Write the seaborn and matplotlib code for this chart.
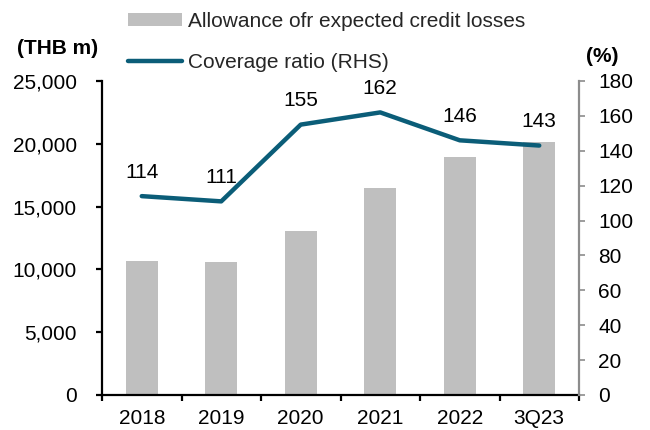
import numpy as np
import matplotlib
matplotlib.use("Agg")
import matplotlib.pyplot as plt
import seaborn as sns
from matplotlib.patches import Patch
from matplotlib.lines import Line2D
from matplotlib.ticker import FuncFormatter, MultipleLocator

categories = ["2018", "2019", "2020", "2021", "2022", "3Q23"]
allowance = [10700, 10580, 13070, 16470, 18940, 20180]
coverage = [114, 111, 155, 162, 146, 143]
coverage_labels = ["114", "111", "155", "162", "146", "143"]

bar_color = "#BFBFBF"
line_color = "#0B5D78"

sns.set_theme(style="white")
plt.rcParams["font.family"] = ["Liberation Sans", "DejaVu Sans"]

fig = plt.figure(figsize=(6.5, 4.3), dpi=100)
ax = fig.add_axes([102 / 650, 1 - 395 / 430, 477 / 650, 314 / 430])

sns.barplot(x=categories, y=allowance, color=bar_color, width=0.4,
            saturation=1, linewidth=0, ax=ax)
ax.set_ylim(0, 25000)
ax.yaxis.set_major_locator(MultipleLocator(5000))
ax.yaxis.set_major_formatter(FuncFormatter(lambda v, p: f"{int(v):,}"))
ax.set_xlim(-0.5, len(categories) - 0.5)
ax.set_xlabel("")
ax.set_ylabel("")

ax2 = ax.twinx()
sns.pointplot(x=categories, y=coverage, color=line_color, markers="",
              linewidth=3.2, ax=ax2)
ax2.set_ylim(0, 180)
ax2.yaxis.set_major_locator(MultipleLocator(20))
ax2.set_xlim(-0.5, len(categories) - 0.5)
ax2.set_ylabel("")
ax2.set_xlabel("")

for i, (v, lab) in enumerate(zip(coverage, coverage_labels)):
    ax2.annotate(lab, (i, v), xytext=(0, 17), textcoords="offset points",
                 ha="center", va="center", fontsize=15, color="#000000")

# spines
for s in ["top", "right"]:
    ax.spines[s].set_visible(False)
ax.spines["left"].set_color("black")
ax.spines["bottom"].set_color("black")
ax.spines["left"].set_linewidth(1.6)
ax.spines["bottom"].set_linewidth(1.6)
for s in ["top", "left", "bottom"]:
    ax2.spines[s].set_visible(False)
ax2.spines["right"].set_color("#8C8C8C")
ax2.spines["right"].set_linewidth(1.6)

ax.set_xticks(np.arange(-0.5, len(categories)), minor=True)
ax.tick_params(axis="x", which="major", length=0, pad=10, labelsize=15,
               colors="black")
ax.tick_params(axis="x", which="minor", length=4, width=1.6, direction="out",
               color="black", bottom=True)
ax.tick_params(axis="y", which="major", length=4, width=1.6, direction="out",
               pad=14, labelsize=15, color="black", labelcolor="black", left=True)
ax2.tick_params(axis="y", which="major", length=4, width=1.2, direction="out",
                pad=10, labelsize=15, color="#8C8C8C", labelcolor="black", right=True)
ax.grid(False)
ax2.grid(False)

handles = [Patch(facecolor=bar_color, edgecolor="none"),
           Line2D([0], [0], color=line_color, lw=3.2)]
labels = ["Allowance ofr expected credit losses", "Coverage ratio (RHS)"]
fig.legend(handles, labels, loc="upper left",
           bbox_to_anchor=(128 / 650, 1 - 12 / 430), frameon=False,
           borderpad=0, borderaxespad=0, handlelength=2.6, handleheight=0.55,
           handletextpad=0.3, labelspacing=1.05, fontsize=15)

fig.text(58 / 650, 1 - 48 / 430, "(THB m)", ha="center", va="center",
         fontsize=15, fontweight="bold", color="black")
fig.text(602 / 650, 1 - 57 / 430, "(%)", ha="center", va="center",
         fontsize=15, fontweight="bold", color="black")

fig.savefig("out.png", dpi=100)
